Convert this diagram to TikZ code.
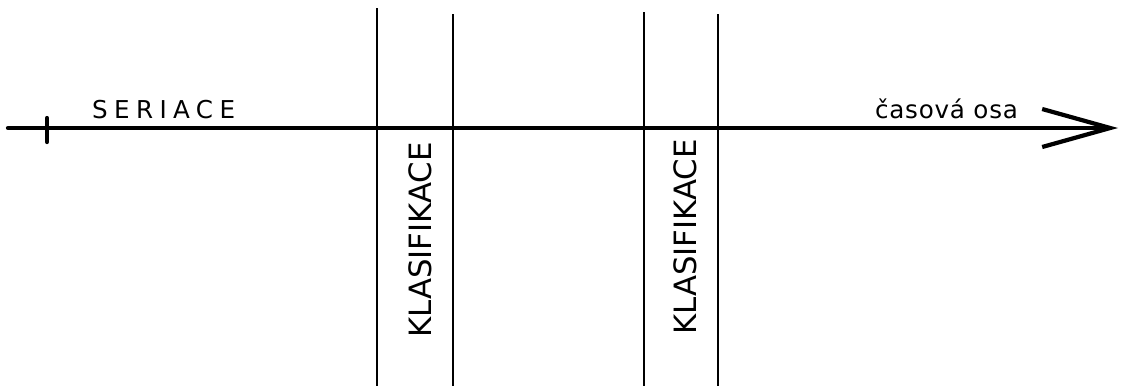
\documentclass[tikz,border=0pt]{standalone}
\usepackage{fontspec}
\setmainfont{DejaVu Sans}
\usetikzlibrary{arrows.meta}

\begin{document}
\begin{tikzpicture}[x=0.02cm, y=-0.02cm, line width=2.4pt, line cap=round,
    >={Straight Barb[length=1.36cm, width=0.76cm, line width=2.4pt]},
    divider/.style={line width=1.1pt, line cap=butt},
    label/.style={inner sep=0pt, font=\fontsize{17.5pt}{20pt}\selectfont}]
    \useasboundingbox (0,0) rectangle (1124,386);
    % Nodes
    \coordinate (start) at (8,128);
    \coordinate (end) at (1118,128);
    \coordinate (tick) at (47,128);
    \node[label, anchor=base west, font=\fontsize{14pt}{17pt}\selectfont\addfontfeature{LetterSpace=26}] (seriace) at (90,118) {SERIACE};
    \node[label, anchor=base west, font=\fontsize{14pt}{17pt}\selectfont\addfontfeature{LetterSpace=3}] (axis) at (873,118) {časová osa};
    \node[label, rotate=90] (klas1) at (420,240) {KLASIFIKACE};
    \node[label, rotate=90] (klas2) at (685,237) {KLASIFIKACE};

    % Connections
    \draw[->] (start) -- (end);
    \draw (tick) ++(0,-10) -- ++(0,24);

    % Dividers
    \foreach \x/\top in {377/8, 453/14, 644/12, 718/14}
        \draw[divider] (\x,\top) -- (\x,386);
\end{tikzpicture}
\end{document}
